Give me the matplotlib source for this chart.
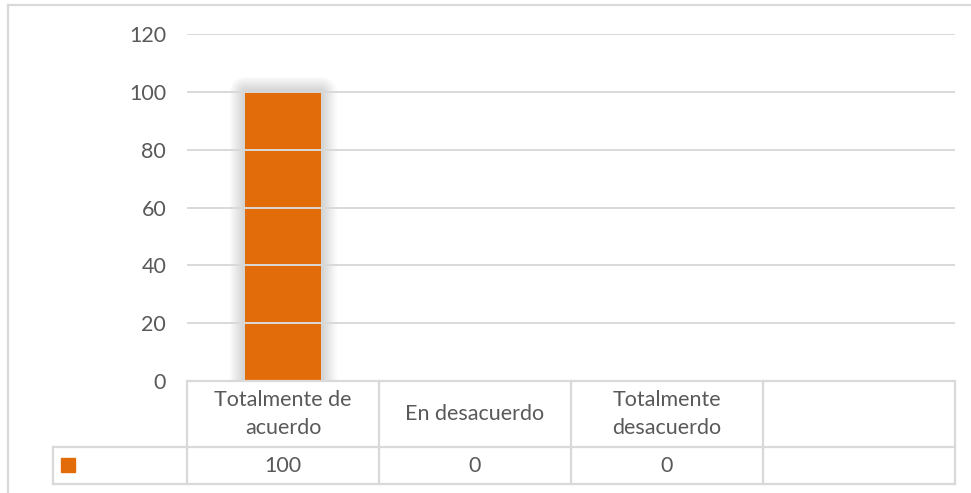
import matplotlib
matplotlib.use("Agg")
import matplotlib.pyplot as plt
from matplotlib.patches import Rectangle
from matplotlib.lines import Line2D
import matplotlib.transforms as mtransforms

# Data
categories = ['Totalmente de\nacuerdo', 'En desacuerdo', 'Totalmente\ndesacuerdo', '']
values = [100, 0, 0]
value_labels = ['100', '0', '0', '']
yticks = [0, 20, 40, 60, 80, 100, 120]

bar_color = '#E36C0A'
text_color = '#595959'
line_color = '#D9D9D9'
font = 'Lato'
fsize = 15.5

W, H = 971, 493
fig = plt.figure(figsize=(W / 100, H / 100), dpi=100)
plt.rcParams['hatch.color'] = '#ECECEC'
plt.rcParams['hatch.linewidth'] = 1.0

# faint diagonal texture in the background
bg = Rectangle((8 / W, 0), 1, 1 - 5 / H, transform=fig.transFigure,
               facecolor='white', edgecolor='none', hatch='\\' * 14, zorder=-10)
fig.patches.append(bg)

# outer border (only top and left visible)
fig.add_artist(Line2D([8 / W, 1], [1 - 5 / H, 1 - 5 / H], transform=fig.transFigure,
                      color=line_color, lw=1.6))
fig.add_artist(Line2D([8 / W, 8 / W], [0, 1 - 5 / H], transform=fig.transFigure,
                      color=line_color, lw=1.6))

ax = fig.add_axes([187 / W, 1 - 381 / H, (955 - 187) / W, (381 - 34) / H])
ax.set_facecolor('none')

x = list(range(len(values)))
# soft shadow around the non-empty bars
sx = [i for i, v in zip(x, values) if v > 0]
sv = [v for v in values if v > 0]
for lw in [22, 19, 16, 13, 10, 7, 4]:
    ax.bar(sx, sv, width=0.4, color='none', edgecolor=(0, 0, 0, 0.022),
           linewidth=lw, joinstyle='round', zorder=0.5)
ax.bar(x, values, width=0.4, color=bar_color, zorder=1)

ax.set_xlim(-0.5, len(categories) - 0.5)
ax.set_ylim(0, 120)
ax.set_yticks(yticks)
ax.set_xticks([])
ax.grid(axis='y', color=line_color, lw=1.4)
for s in ax.spines.values():
    s.set_visible(False)
ax.tick_params(axis='y', length=0, pad=15, labelcolor=text_color, labelsize=fsize)
for lab in ax.get_yticklabels():
    lab.set_fontfamily(font)

# data table below the axis
tr = mtransforms.blended_transform_factory(ax.transData, ax.transAxes)
h1 = -(447 - 381) / 347
h2 = -(484 - 381) / 347
n = len(categories)
xl = -0.5 - (187 - 53) / 192
xr = n - 0.5
lk = dict(transform=tr, color=line_color, lw=1.6, clip_on=False)
ax.plot([-0.5, xr], [0, 0], **lk)
ax.plot([xl, xr], [h1, h1], **lk)
ax.plot([xl, xr], [h2, h2], **lk)
ax.plot([xl, xl], [h1, h2], **lk)
for i in range(n + 1):
    ax.plot([i - 0.5, i - 0.5], [0, h2], **lk)
for i, (c, v) in enumerate(zip(categories, value_labels)):
    ax.text(i, h1 / 2, c, transform=tr, ha='center', va='center', color=text_color,
            fontsize=fsize, family=font, linespacing=1.45)
    ax.text(i, (h1 + h2) / 2, v, transform=tr, ha='center', va='center', color=text_color,
            fontsize=fsize, family=font)

# legend key
kx = -0.5 - (187 - 61) / 192
ax.add_patch(Rectangle((kx, -(472 - 381) / 347), 14 / 192, 14 / 347, transform=tr,
                       color=bar_color, clip_on=False))

fig.savefig('out.png', dpi=100)
